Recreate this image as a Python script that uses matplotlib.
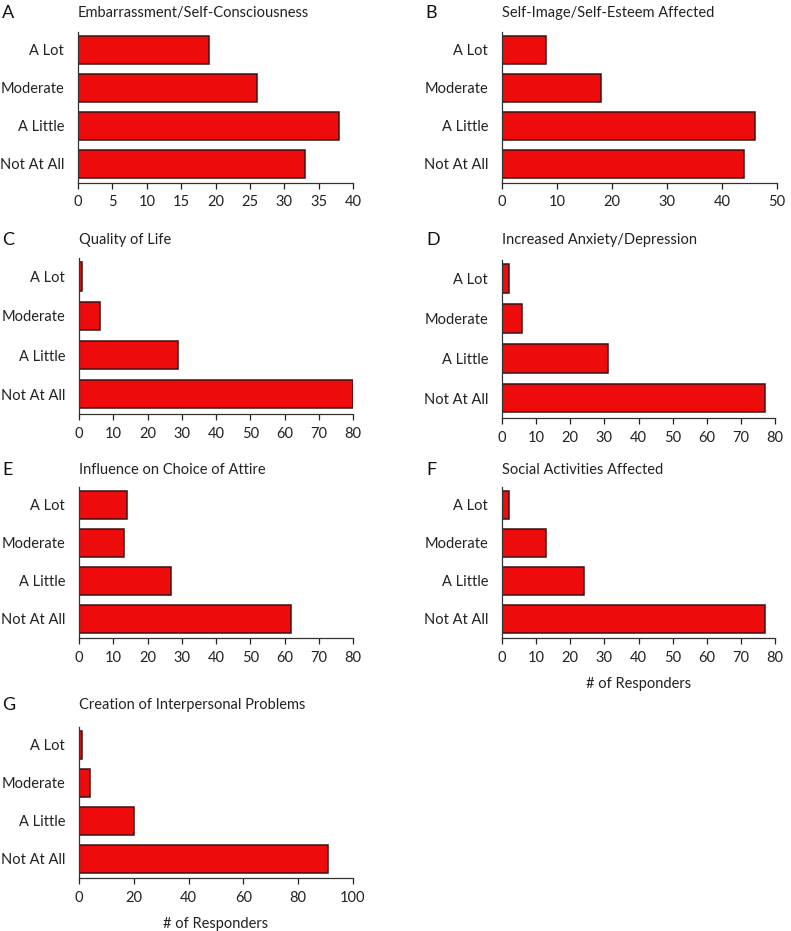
import matplotlib
matplotlib.use("Agg")
import matplotlib.pyplot as plt
import numpy as np

plt.rcParams['font.family'] = ['Lato', 'DejaVu Sans']

categories = ["Not At All", "A Little", "Moderate", "A Lot"]
letters = ["A", "B", "C", "D", "E", "F", "G"]
titles = [
    "Embarrassment/Self-Consciousness",
    "Self-Image/Self-Esteem Affected",
    "Quality of Life",
    "Increased Anxiety/Depression",
    "Influence on Choice of Attire",
    "Social Activities Affected",
    "Creation of Interpersonal Problems",
]
# values ordered as categories: Not At All, A Little, Moderate, A Lot
vals_A = [33, 38, 26, 19]
vals_B = [44, 46, 18, 8]
vals_C = [80, 29, 6, 1]
vals_D = [77, 31, 6, 2]
vals_E = [62, 27, 13, 14]
vals_F = [77, 24, 13, 2]
vals_G = [91, 20, 4, 1]
values = [vals_A, vals_B, vals_C, vals_D, vals_E, vals_F, vals_G]
xmax = [40, 50, 80, 80, 80, 80, 100]
xstep = [5, 10, 10, 10, 10, 10, 20]
xlabels = [None, None, None, None, None, "# of Responders", "# of Responders"]

W, H = 791, 931
fig = plt.figure(figsize=(W / 100, H / 100), dpi=100)

# pixel boxes: left, right, top, bottom
boxes = [
    (78, 353, 32, 183),
    (502, 777, 32, 183),
    (79, 353, 258, 414),
    (502, 775, 260, 418),
    (79, 353, 487, 638),
    (502, 775, 487, 638),
    (79, 353, 727, 878),
]
letter_pos = [(2, 13), (425, 13), (2, 240), (426, 240), (2, 470), (426, 470), (2, 705)]

face = "#ee0b0b"
edge = "#3c1212"
fs = 10.5

for i, (l, r, t, b) in enumerate(boxes):
    ax = fig.add_axes([l / W, 1 - b / H, (r - l) / W, (b - t) / H])
    y = np.arange(len(categories))
    ax.barh(y, values[i], height=0.72, color=face, edgecolor=edge, linewidth=1.1)
    ax.set_yticks(y)
    ax.set_yticklabels(categories, fontsize=fs, color="#222222")
    ax.set_xlim(0, xmax[i])
    ax.set_ylim(-0.5, 3.47)
    ax.set_xticks(np.arange(0, xmax[i] + 0.1, xstep[i]))
    ax.tick_params(axis='x', labelsize=fs, length=4, width=0.9, colors="#222222", pad=5)
    ax.tick_params(axis='y', length=0, pad=10)
    for s in ["top", "right"]:
        ax.spines[s].set_visible(False)
    for s in ["left", "bottom"]:
        ax.spines[s].set_linewidth(0.9)
        ax.spines[s].set_color("#333333")
    if xlabels[i]:
        ax.set_xlabel(xlabels[i], fontsize=fs, color="#222222", labelpad=9)
    fig.text(l / W, 1 - letter_pos[i][1] / H, titles[i], fontsize=fs,
             va="center", ha="left", color="#222222")
    fig.text(letter_pos[i][0] / W, 1 - letter_pos[i][1] / H, letters[i], fontsize=13,
             va="center", ha="left", color="#111111")

fig.savefig("out.png", dpi=100, facecolor="white")
